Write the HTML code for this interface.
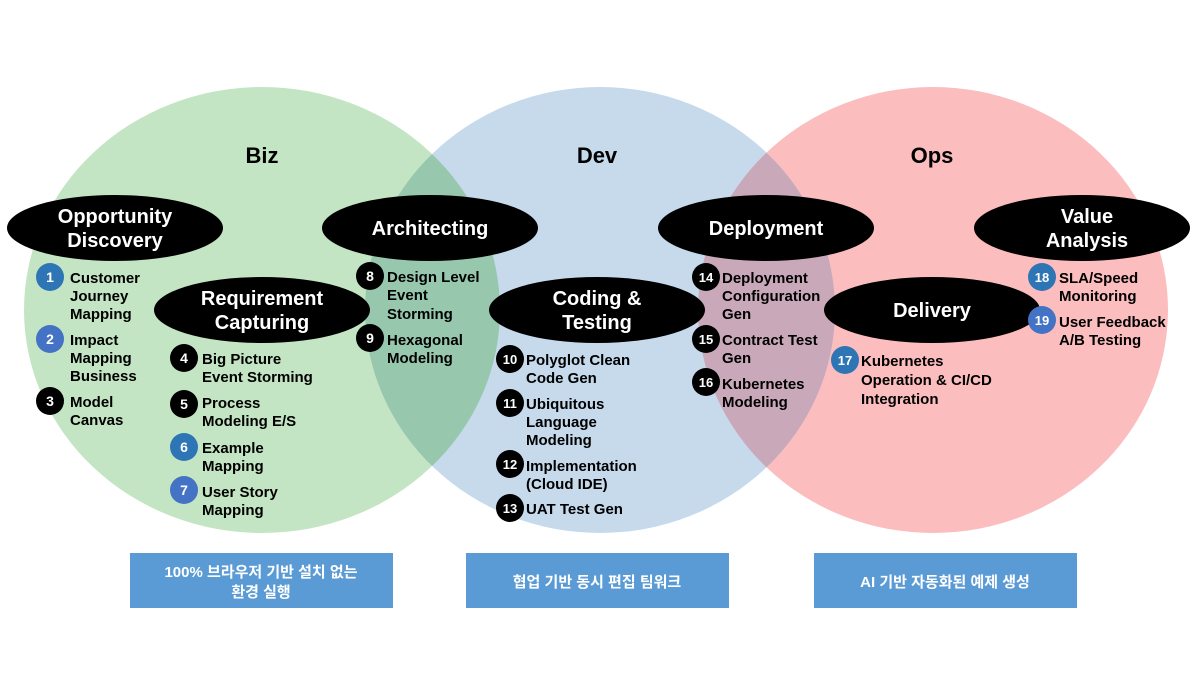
<!DOCTYPE html>
<html><head><meta charset="utf-8"><style>
body{margin:0;width:1196px;height:672px;background:#fff;overflow:hidden}
svg text{font-family:"Liberation Sans","Noto Sans CJK KR",sans-serif;font-weight:bold}
</style></head><body>
<svg width="1196" height="672" xmlns="http://www.w3.org/2000/svg">
<defs>
<clipPath id="cb"><ellipse cx="262" cy="310" rx="238" ry="223"/></clipPath>
<clipPath id="co"><ellipse cx="933" cy="310" rx="235" ry="223"/></clipPath>
</defs>
<ellipse cx="262" cy="310" rx="238" ry="223" fill="#c3e5c3"/>
<ellipse cx="933" cy="310" rx="235" ry="223" fill="#fbbdbd"/>
<ellipse cx="600" cy="310" rx="235" ry="223" fill="#c6daec"/>
<ellipse cx="600" cy="310" rx="235" ry="223" fill="#97c8ae" clip-path="url(#cb)"/>
<ellipse cx="600" cy="310" rx="235" ry="223" fill="#c9a9b9" clip-path="url(#co)"/>
<g font-size="22" text-anchor="middle" fill="#000">
<text x="262" y="163">Biz</text><text x="597" y="163">Dev</text><text x="932" y="163">Ops</text>
</g>
<g fill="#000">
<ellipse cx="115" cy="228" rx="108" ry="33"/>
<ellipse cx="430" cy="228" rx="108" ry="33"/>
<ellipse cx="262" cy="310" rx="108" ry="33"/>
<ellipse cx="597" cy="310" rx="108" ry="33"/>
<ellipse cx="766" cy="228" rx="108" ry="33"/>
<ellipse cx="932" cy="310" rx="108" ry="33"/>
<ellipse cx="1082" cy="228" rx="108" ry="33"/>
</g>
<g font-size="20" fill="#fff" text-anchor="middle">
<text x="115" y="223">Opportunity</text><text x="115" y="247">Discovery</text>
<text x="430" y="235">Architecting</text>
<text x="262" y="305">Requirement</text><text x="262" y="329">Capturing</text>
<text x="597" y="305">Coding &amp;</text><text x="597" y="329">Testing</text>
<text x="766" y="235">Deployment</text>
<text x="932" y="317">Delivery</text>
<text x="1087" y="223">Value</text><text x="1087" y="247">Analysis</text>
</g>
<g font-size="15" fill="#000">
<text x="70" y="283">Customer</text><text x="70" y="301">Journey</text><text x="70" y="319">Mapping</text>
<text x="70" y="345">Impact</text><text x="70" y="363">Mapping</text><text x="70" y="381">Business</text>
<text x="70" y="407">Model</text><text x="70" y="425">Canvas</text>
<text x="202" y="364">Big Picture</text><text x="202" y="382">Event Storming</text>
<text x="202" y="408">Process</text><text x="202" y="426">Modeling E/S</text>
<text x="202" y="453">Example</text><text x="202" y="471">Mapping</text>
<text x="202" y="497">User Story</text><text x="202" y="515">Mapping</text>
<text x="387" y="282">Design Level</text><text x="387" y="300">Event</text><text x="387" y="319">Storming</text>
<text x="387" y="345">Hexagonal</text><text x="387" y="363">Modeling</text>
<text x="526" y="365">Polyglot Clean</text><text x="526" y="383">Code Gen</text>
<text x="526" y="409">Ubiquitous</text><text x="526" y="427">Language</text><text x="526" y="445">Modeling</text>
<text x="526" y="471">Implementation</text><text x="526" y="489">(Cloud IDE)</text>
<text x="526" y="514">UAT Test Gen</text>
<text x="722" y="283">Deployment</text><text x="722" y="301">Configuration</text><text x="722" y="319">Gen</text>
<text x="722" y="345">Contract Test</text><text x="722" y="363">Gen</text>
<text x="722" y="389">Kubernetes</text><text x="722" y="407">Modeling</text>
<text x="861" y="366">Kubernetes</text><text x="861" y="385">Operation &amp; CI/CD</text><text x="861" y="404">Integration</text>
<text x="1059" y="283">SLA/Speed</text><text x="1059" y="301">Monitoring</text>
<text x="1059" y="327">User Feedback</text><text x="1059" y="345">A/B Testing</text>
</g>
<g>
<circle cx="50" cy="277" r="14" fill="#2e75b6"/>
<circle cx="50" cy="339" r="14" fill="#4472c4"/>
<circle cx="50" cy="401" r="14" fill="#000"/>
<circle cx="184" cy="358" r="14" fill="#000"/>
<circle cx="184" cy="404" r="14" fill="#000"/>
<circle cx="184" cy="447" r="14" fill="#2e75b6"/>
<circle cx="184" cy="490" r="14" fill="#4472c4"/>
<circle cx="370" cy="276" r="14" fill="#000"/>
<circle cx="370" cy="338" r="14" fill="#000"/>
<circle cx="510" cy="359" r="14" fill="#000"/>
<circle cx="510" cy="403" r="14" fill="#000"/>
<circle cx="510" cy="464" r="14" fill="#000"/>
<circle cx="510" cy="508" r="14" fill="#000"/>
<circle cx="706" cy="277" r="14" fill="#000"/>
<circle cx="706" cy="339" r="14" fill="#000"/>
<circle cx="706" cy="382" r="14" fill="#000"/>
<circle cx="845" cy="360" r="14" fill="#2e75b6"/>
<circle cx="1042" cy="277" r="14" fill="#2e75b6"/>
<circle cx="1042" cy="320" r="14" fill="#4472c4"/>
</g>
<g font-size="14" fill="#fff" text-anchor="middle">
<text x="50" y="282">1</text><text x="50" y="344">2</text><text x="50" y="406">3</text>
<text x="184" y="363">4</text><text x="184" y="409">5</text><text x="184" y="452">6</text><text x="184" y="495">7</text>
<text x="370" y="281">8</text><text x="370" y="343">9</text>
<text x="510" y="364" font-size="13">10</text><text x="510" y="408" font-size="13">11</text><text x="510" y="469" font-size="13">12</text><text x="510" y="513" font-size="13">13</text>
<text x="706" y="282" font-size="13">14</text><text x="706" y="344" font-size="13">15</text><text x="706" y="387" font-size="13">16</text>
<text x="845" y="365" font-size="13">17</text><text x="1042" y="282" font-size="13">18</text><text x="1042" y="325" font-size="13">19</text>
</g>
<rect x="130" y="553" width="263" height="55" fill="#5b9bd5"/>
<rect x="466" y="553" width="263" height="55" fill="#5b9bd5"/>
<rect x="814" y="553" width="263" height="55" fill="#5b9bd5"/>
<g font-size="15" fill="#fff" text-anchor="middle">
<text x="261" y="577">100% 브라우저 기반 설치 없는</text><text x="261" y="597">환경 실행</text>
<text x="597" y="587">협업 기반 동시 편집 팀워크</text>
<text x="945" y="587">AI 기반 자동화된 예제 생성</text>
</g>
</svg>
</body></html>
